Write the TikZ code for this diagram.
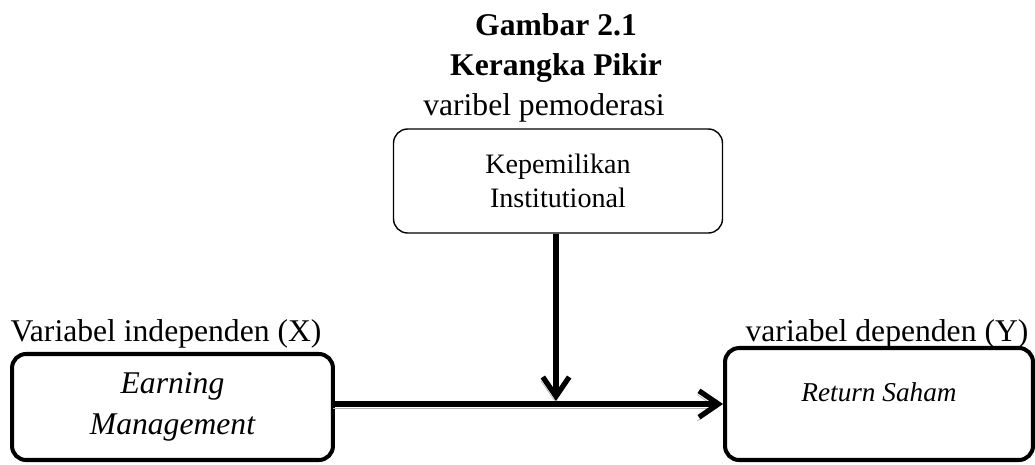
\documentclass[tikz,border=0pt]{standalone}
\usepackage{fontspec}
\setmainfont{Liberation Serif}
\usetikzlibrary{arrows.meta, positioning}

\begin{document}
\begin{tikzpicture}[x=0.02cm, y=-0.02cm,
  varbox/.style={draw, line width=2.3pt, rounded corners=8pt, align=center,
                 font=\fontsize{18}{23.2}\selectfont\itshape},
  modbox/.style={draw, line width=0.8pt, rounded corners=8pt, align=center,
                 minimum width=6.58cm, minimum height=2.08cm,
                 font=\fontsize{16}{19.3}\selectfont},
  vartitle/.style={anchor=base, font=\fontsize{18}{22}\selectfont},
  heading/.style={anchor=base, font=\fontsize{18}{22}\selectfont\bfseries},
  flow/.style={line width=3pt, -{Straight Barb[length=11pt, width=15pt]},
               preaction={draw=gray!60, transform canvas={shift={(-1pt,-2.2pt)}}}},
]
  \useasboundingbox (0,0) rectangle (1035,464);

  % Title
  \node[heading] (fig) at (556,35) {Gambar 2.1};
  \node[heading] (title) at (556,75) {Kerangka Pikir};

  % Moderating variable
  \node[vartitle] (modlabel) at (544,115) {varibel pemoderasi};
  \node[modbox] (mod) at (558,181) {Kepemilikan\\Institutional};

  % Independent variable
  \node[vartitle] (indeplabel) at (166,341) {Variabel independen (X)};
  \node[varbox, minimum width=6.42cm, minimum height=2.12cm] (indep) at (172.5,407)
    {Earning\\Management};

  % Dependent variable
  \node[vartitle] (deplabel) at (887,341) {variabel dependen (Y)};
  \node[varbox, minimum width=6.16cm, minimum height=2.24cm,
        font=\fontsize{15.5}{19}\selectfont\itshape,
        text height=11pt, text depth=14.4pt] (dep) at (879,404) {Return Saham};

  % Arrows
  \coordinate (meet) at (556,401);
  \draw[flow] (indep.east |- dep.west) -- (dep.west);
  \draw[flow] (mod.south -| meet) -- (meet);
\end{tikzpicture}
\end{document}
